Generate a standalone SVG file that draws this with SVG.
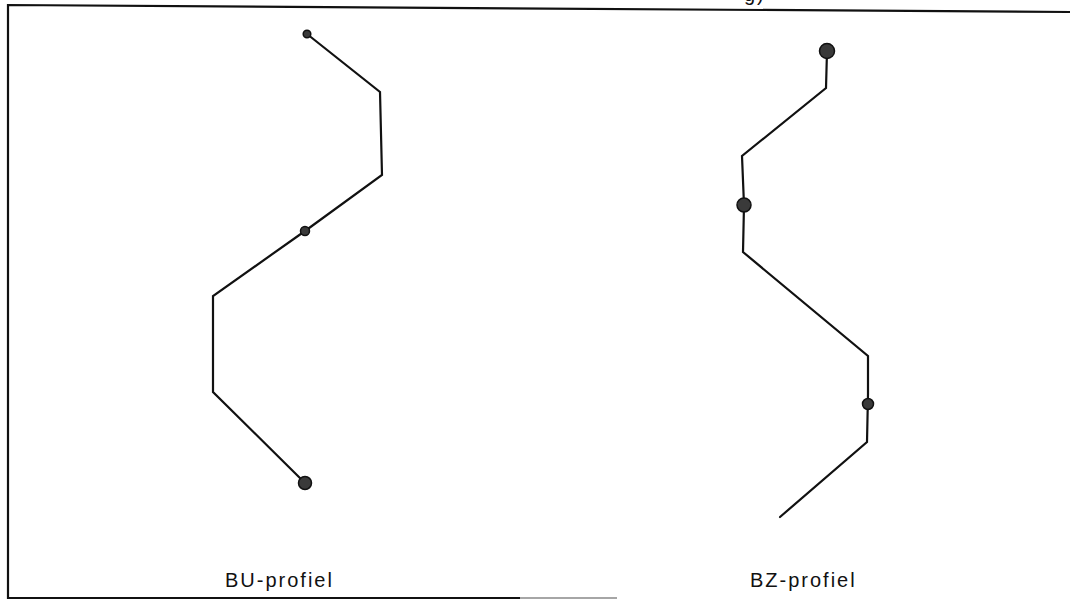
<svg xmlns="http://www.w3.org/2000/svg" width="1070" height="605" viewBox="0 0 1070 605">
  <style>
    .frame { fill: none; stroke: #111; stroke-width: 2.2; }
    .profile { fill: none; stroke: #111; stroke-width: 2.2; stroke-linejoin: miter; stroke-linecap: round; }
    .pt { fill: #3a3a3a; stroke: #111; stroke-width: 1.5; }
    .label { font-family: "Liberation Sans", "DejaVu Sans", sans-serif; font-size: 20px; fill: #111; letter-spacing: 2px; }
  </style>
  <rect width="1070" height="605" fill="#fff"/>

  <!-- outer frame: top, left and bottom edges -->
  <g id="frame">
    <path class="frame" d="M1070,12 L8,5 L8,598 L520,598"/>
    <path d="M520,598 L617,598" stroke="#888" stroke-width="1.5" fill="none"/>
    <text x="744" y="1" class="label" font-size="18">g)</text>
  </g>

  <!-- BU profile -->
  <g id="bu-profiel">
    <polyline class="profile" points="307,34 380,92 382,175 305,231 213,296 213,392 305,483"/>
    <circle class="pt" cx="307" cy="34" r="3.8"/>
    <circle class="pt" cx="305" cy="231" r="4.5"/>
    <circle class="pt" cx="305" cy="483" r="6.5"/>
    <text class="label" x="225" y="587">BU-profiel</text>
  </g>

  <!-- BZ profile -->
  <g id="bz-profiel">
    <polyline class="profile" points="827,51 826,88 742,156 744,205 743,252 868,356 868,394 867,442 780,517"/>
    <circle class="pt" cx="827" cy="51" r="7.5"/>
    <circle class="pt" cx="744" cy="205" r="7"/>
    <circle class="pt" cx="868" cy="404" r="5.5"/>
    <text class="label" x="750" y="587">BZ-profiel</text>
  </g>
</svg>
